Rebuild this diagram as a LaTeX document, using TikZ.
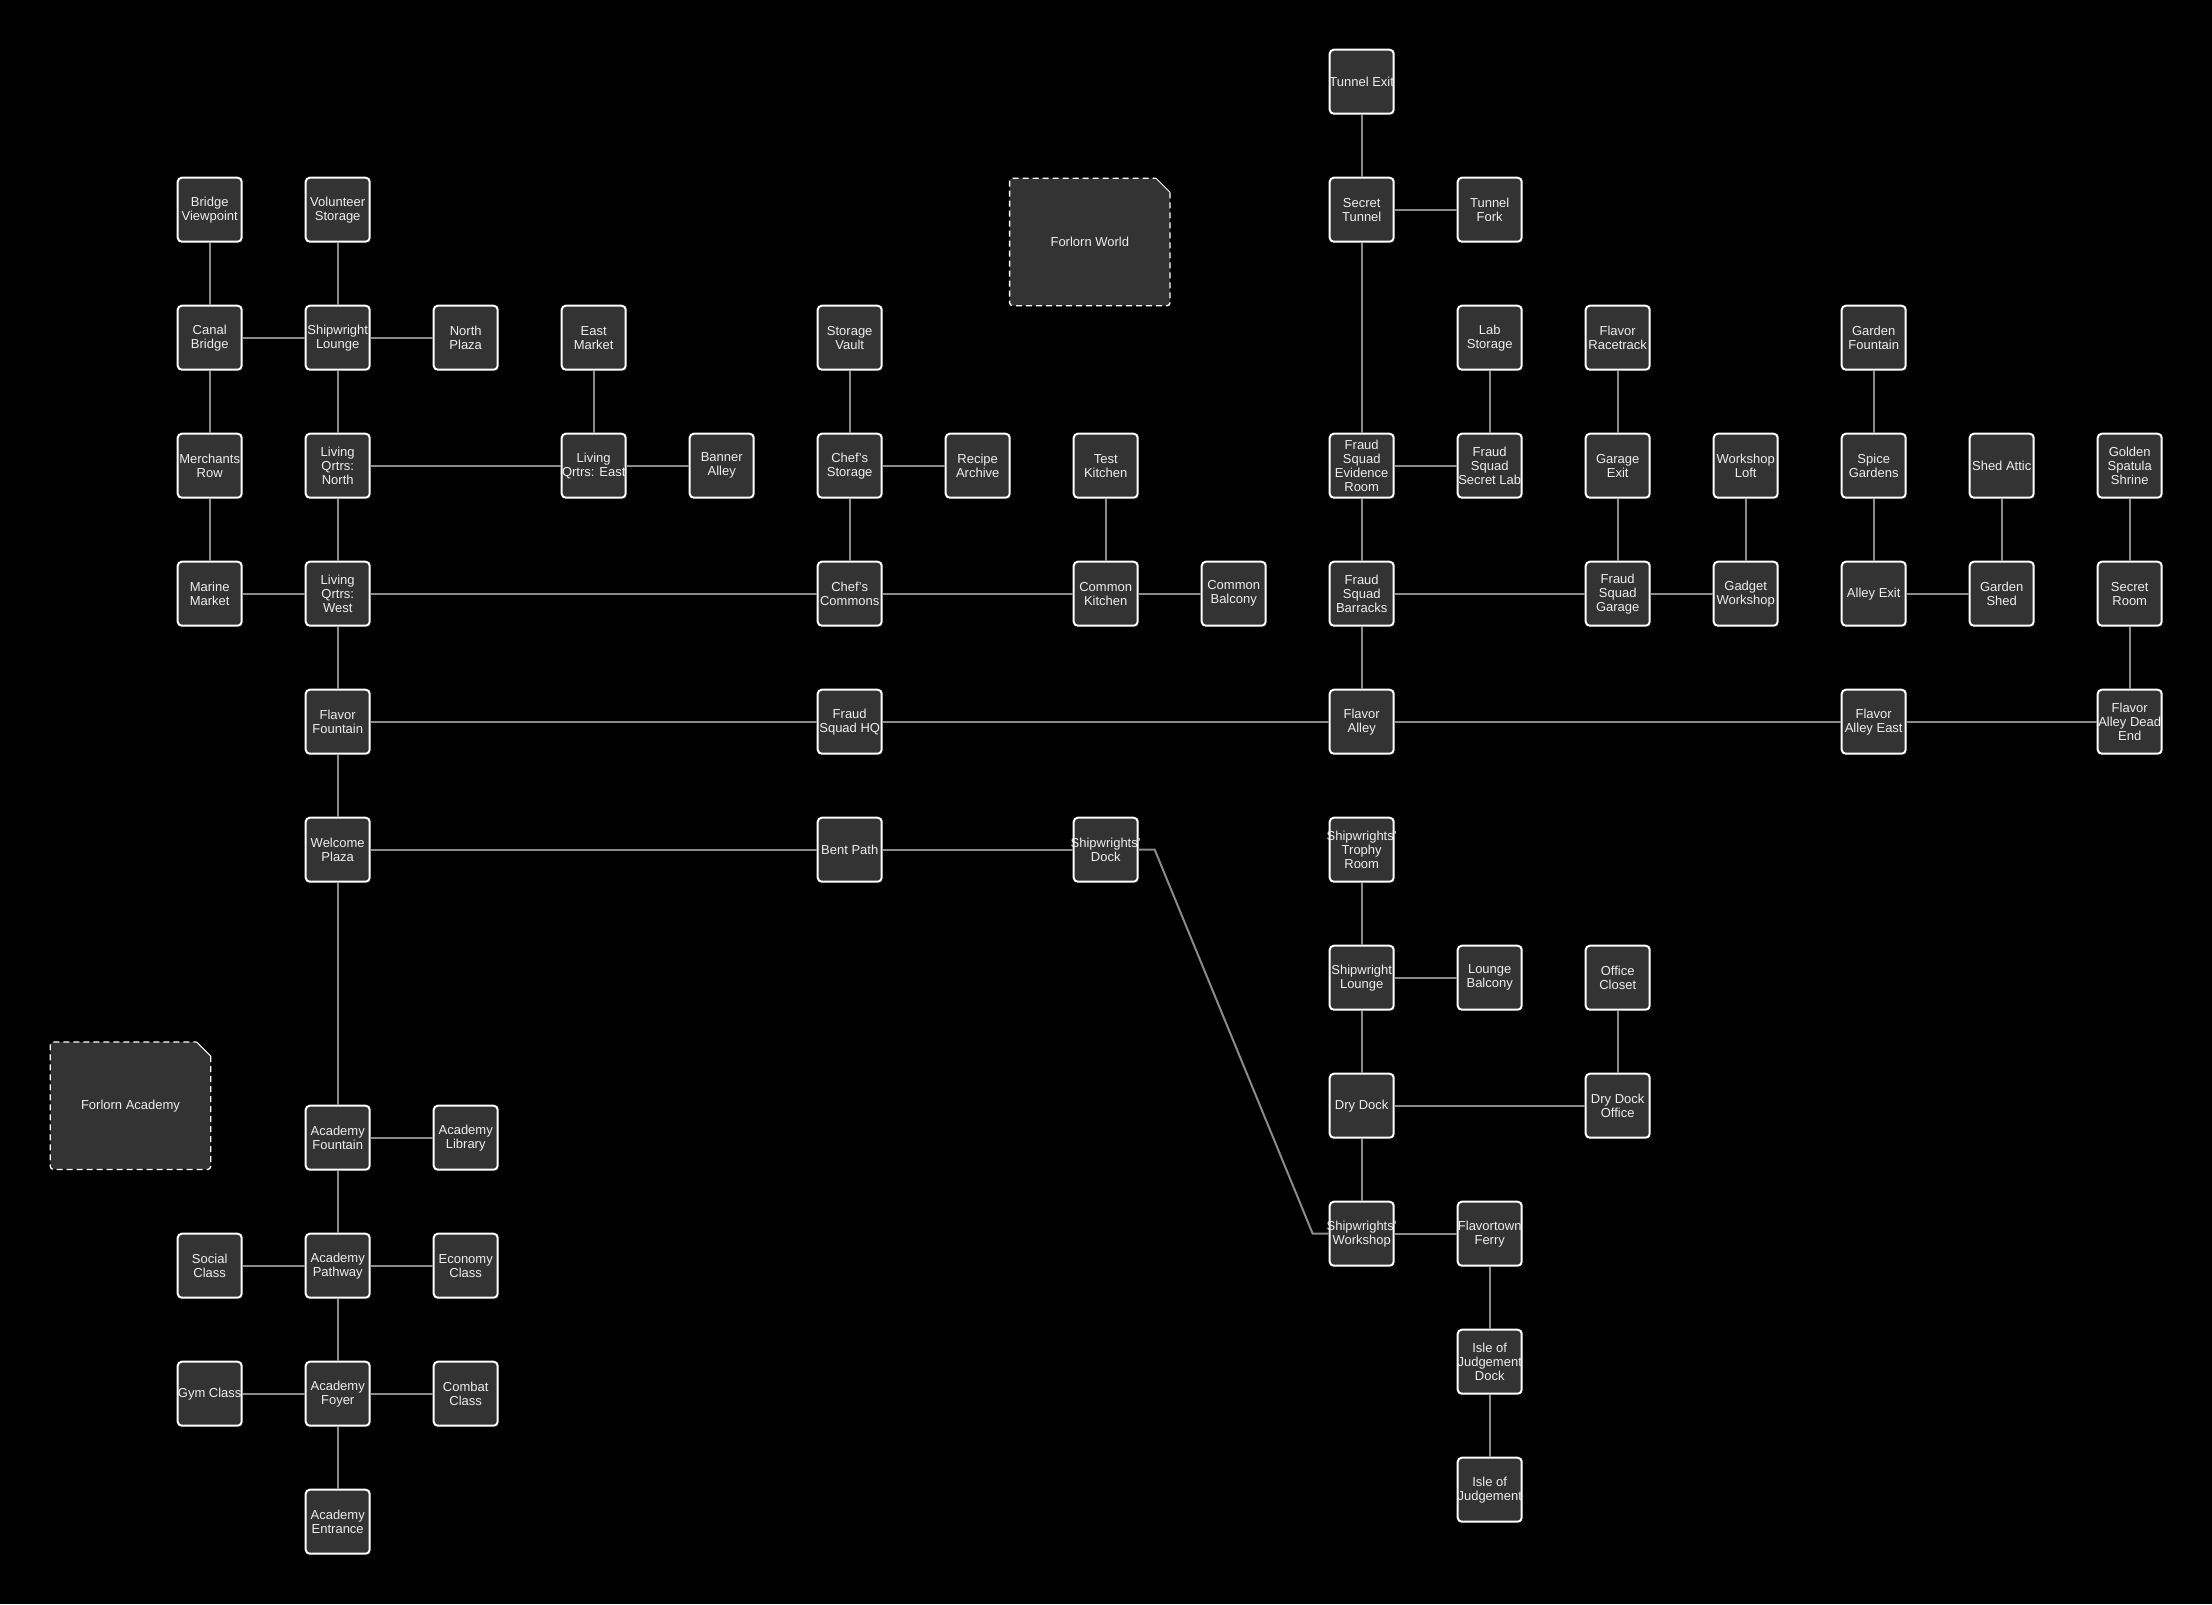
\documentclass[tikz,border=0pt]{standalone}
\usepackage{fontspec}
\setmainfont{Liberation Sans}
\definecolor{bgc}{HTML}{000000}
\definecolor{boxfill}{HTML}{333333}
\definecolor{edgec}{HTML}{8A8A8A}
\definecolor{txtc}{HTML}{EEEEEE}
\tikzset{
  room/.style={draw=white, fill=boxfill, line width=2bp, rounded corners=4bp,
    minimum width=64bp, minimum height=64bp, inner sep=0pt},
  roomtext/.style={inner sep=0pt, align=center, text=txtc,
    font=\fontsize{13bp}{14bp}\selectfont},
  area/.style={minimum width=160bp, minimum height=127bp, inner sep=0pt,
    text=txtc, font=\fontsize{13bp}{14bp}\selectfont},
  link/.style={draw=edgec, line width=2bp},
  areaborder/.style={draw=white, line width=1.3bp, dash pattern=on 6bp off 4bp},
}
\newcommand\placeroom[3]{\node[room] (#1) at (#2) {};\node[roomtext] (#1-t) at (#1) {#3};}
\begin{document}
\begin{tikzpicture}[x=1bp, y=-1bp]
\fill[bgc] (0,0) rectangle (2212,1604);
\useasboundingbox (0,0) rectangle (2212,1604);

% area boxes
\node[area] (fw) at (1089.8,242) {};
\node[area] (fa) at (130.5,1105.7) {};
\foreach \a in {fw,fa}{
  \fill[boxfill, rounded corners=3bp] (\a.north west) -- ([xshift=-14bp]\a.north east) -- ([yshift=-14bp]\a.north east) -- (\a.south east) -- (\a.south west) -- cycle;
  \draw[areaborder, rounded corners=3bp] ([yshift=-14bp]\a.north east) -- (\a.south east) -- (\a.south west) -- (\a.north west) -- ([xshift=-14bp]\a.north east);
  \draw[white, line width=1bp] ([xshift=-14bp]\a.north east) -- ([yshift=-14bp]\a.north east);
}
\node[area] (fw-t) at (fw) {Forlorn World};
\node[area] (fa-t) at (fa) {Forlorn Academy};

% row 0
\placeroom{tunnelexit}{1361.7,81.7}{Tunnel Exit}
% row 1
\placeroom{bridgeview}{209.7,209.7}{Bridge\\Viewpoint}
\placeroom{volstorage}{337.7,209.7}{Volunteer\\Storage}
\placeroom{secrettunnel}{1361.7,209.7}{Secret\\Tunnel}
\placeroom{tunnelfork}{1489.7,209.7}{Tunnel\\Fork}
% row 2
\placeroom{canal}{209.7,337.7}{Canal\\Bridge}
\placeroom{slounge}{337.7,337.7}{Shipwright\\Lounge}
\placeroom{northplaza}{465.7,337.7}{North\\Plaza}
\placeroom{eastmarket}{593.7,337.7}{East\\Market}
\placeroom{storagevault}{849.7,337.7}{Storage\\Vault}
\placeroom{labstorage}{1489.7,337.7}{Lab\\Storage}
\placeroom{racetrack}{1617.7,337.7}{Flavor\\Racetrack}
\placeroom{gardenfountain}{1873.7,337.7}{Garden\\Fountain}
% row 3
\placeroom{merchants}{209.7,465.7}{Merchants\\Row}
\placeroom{lqnorth}{337.7,465.7}{Living\\Qrtrs:\\North}
\placeroom{lqeast}{593.7,465.7}{Living\\Qrtrs: East}
\placeroom{banner}{721.7,465.7}{Banner\\Alley}
\placeroom{chefstorage}{849.7,465.7}{Chef's\\Storage}
\placeroom{recipe}{977.7,465.7}{Recipe\\Archive}
\placeroom{testkitchen}{1105.7,465.7}{Test\\Kitchen}
\placeroom{evidence}{1361.7,465.7}{Fraud\\Squad\\Evidence\\Room}
\placeroom{secretlab}{1489.7,465.7}{Fraud\\Squad\\Secret Lab}
\placeroom{garageexit}{1617.7,465.7}{Garage\\Exit}
\placeroom{loft}{1745.7,465.7}{Workshop\\Loft}
\placeroom{spice}{1873.7,465.7}{Spice\\Gardens}
\placeroom{shedattic}{2001.7,465.7}{Shed Attic}
\placeroom{shrine}{2129.7,465.7}{Golden\\Spatula\\Shrine}
% row 4
\placeroom{marine}{209.7,593.7}{Marine\\Market}
\placeroom{lqwest}{337.7,593.7}{Living\\Qrtrs:\\West}
\placeroom{chefcommons}{849.7,593.7}{Chef's\\Commons}
\placeroom{commonkitchen}{1105.7,593.7}{Common\\Kitchen}
\placeroom{balcony}{1233.7,593.7}{Common\\Balcony}
\placeroom{barracks}{1361.7,593.7}{Fraud\\Squad\\Barracks}
\placeroom{garage}{1617.7,593.7}{Fraud\\Squad\\Garage}
\placeroom{gadget}{1745.7,593.7}{Gadget\\Workshop}
\placeroom{alleyexit}{1873.7,593.7}{Alley Exit}
\placeroom{gardenshed}{2001.7,593.7}{Garden\\Shed}
\placeroom{secretroom}{2129.7,593.7}{Secret\\Room}
% row 5
\placeroom{flavorfountain}{337.7,721.7}{Flavor\\Fountain}
\placeroom{fshq}{849.7,721.7}{Fraud\\Squad HQ}
\placeroom{flavoralley}{1361.7,721.7}{Flavor\\Alley}
\placeroom{alleyeast}{1873.7,721.7}{Flavor\\Alley East}
\placeroom{deadend}{2129.7,721.7}{Flavor\\Alley Dead\\End}
% row 6
\placeroom{welcome}{337.7,849.7}{Welcome\\Plaza}
\placeroom{bent}{849.7,849.7}{Bent Path}
\placeroom{dock}{1105.7,849.7}{Shipwrights'\\Dock}
\placeroom{trophy}{1361.7,849.7}{Shipwrights'\\Trophy\\Room}
% row 7
\placeroom{slounge2}{1361.7,977.7}{Shipwright\\Lounge}
\placeroom{loungebalcony}{1489.7,977.7}{Lounge\\Balcony}
\placeroom{officecloset}{1617.7,977.7}{Office\\Closet}
% row 8
\placeroom{drydock}{1361.7,1105.7}{Dry Dock}
\placeroom{dryoffice}{1617.7,1105.7}{Dry Dock\\Office}
% row 9
\placeroom{workshop}{1361.7,1233.7}{Shipwrights'\\Workshop}
\placeroom{ferry}{1489.7,1233.7}{Flavortown\\Ferry}
% rows 10-11
\placeroom{isledock}{1489.7,1361.7}{Isle of\\Judgement\\Dock}
\placeroom{isle}{1489.7,1489.7}{Isle of\\Judgement}
% academy
\placeroom{afountain}{337.7,1137.7}{Academy\\Fountain}
\placeroom{alibrary}{465.7,1137.7}{Academy\\Library}
\placeroom{social}{209.7,1265.7}{Social\\Class}
\placeroom{apathway}{337.7,1265.7}{Academy\\Pathway}
\placeroom{economy}{465.7,1265.7}{Economy\\Class}
\placeroom{gym}{209.7,1393.7}{Gym Class}
\placeroom{afoyer}{337.7,1393.7}{Academy\\Foyer}
\placeroom{combat}{465.7,1393.7}{Combat\\Class}
\placeroom{aentrance}{337.7,1521.7}{Academy\\Entrance}

% connectors
\draw[link] (tunnelexit) -- (secrettunnel);
\draw[link] (secrettunnel) -- (tunnelfork);
\draw[link] (secrettunnel) -- (evidence);
\draw[link] (bridgeview) -- (canal);
\draw[link] (volstorage) -- (slounge);
\draw[link] (canal) -- (slounge);
\draw[link] (slounge) -- (northplaza);
\draw[link] (canal) -- (merchants);
\draw[link] (slounge) -- (lqnorth);
\draw[link] (eastmarket) -- (lqeast);
\draw[link] (lqnorth) -- (lqeast);
\draw[link] (lqeast) -- (banner);
\draw[link] (merchants) -- (marine);
\draw[link] (lqnorth) -- (lqwest);
\draw[link] (marine) -- (lqwest);
\draw[link] (storagevault) -- (chefstorage);
\draw[link] (chefstorage) -- (recipe);
\draw[link] (chefstorage) -- (chefcommons);
\draw[link] (lqwest) -- (chefcommons);
\draw[link] (chefcommons) -- (commonkitchen);
\draw[link] (testkitchen) -- (commonkitchen);
\draw[link] (commonkitchen) -- (balcony);
\draw[link] (labstorage) -- (secretlab);
\draw[link] (evidence) -- (secretlab);
\draw[link] (evidence) -- (barracks);
\draw[link] (barracks) -- (garage);
\draw[link] (racetrack) -- (garageexit);
\draw[link] (garageexit) -- (garage);
\draw[link] (garage) -- (gadget);
\draw[link] (loft) -- (gadget);
\draw[link] (gardenfountain) -- (spice);
\draw[link] (spice) -- (alleyexit);
\draw[link] (alleyexit) -- (gardenshed);
\draw[link] (shedattic) -- (gardenshed);
\draw[link] (shrine) -- (secretroom);
\draw[link] (secretroom) -- (deadend);
\draw[link] (barracks) -- (flavoralley);
\draw[link] (lqwest) -- (flavorfountain);
\draw[link] (flavorfountain) -- (fshq);
\draw[link] (fshq) -- (flavoralley);
\draw[link] (flavoralley) -- (alleyeast);
\draw[link] (alleyeast) -- (deadend);
\draw[link] (flavorfountain) -- (welcome);
\draw[link] (welcome) -- (bent);
\draw[link] (bent) -- (dock);
\draw[link] (dock.east) -- ++(16,0) -- ([xshift=-16bp]workshop.west) -- (workshop.west);
\draw[link] (welcome) -- (afountain);
\draw[link] (afountain) -- (alibrary);
\draw[link] (afountain) -- (apathway);
\draw[link] (social) -- (apathway);
\draw[link] (apathway) -- (economy);
\draw[link] (apathway) -- (afoyer);
\draw[link] (gym) -- (afoyer);
\draw[link] (afoyer) -- (combat);
\draw[link] (afoyer) -- (aentrance);
\draw[link] (trophy) -- (slounge2);
\draw[link] (slounge2) -- (loungebalcony);
\draw[link] (slounge2) -- (drydock);
\draw[link] (officecloset) -- (dryoffice);
\draw[link] (drydock) -- (dryoffice);
\draw[link] (drydock) -- (workshop);
\draw[link] (workshop) -- (ferry);
\draw[link] (ferry) -- (isledock);
\draw[link] (isledock) -- (isle);
\end{tikzpicture}
\end{document}
